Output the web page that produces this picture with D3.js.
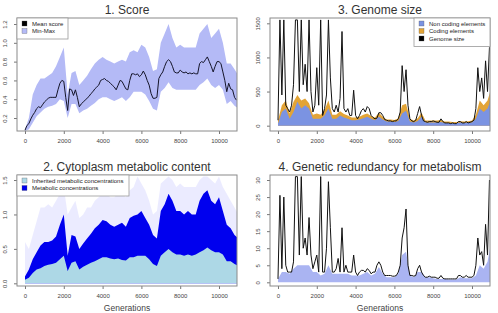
<!DOCTYPE html>
<html>
<head>
<meta charset="utf-8">
<script src="https://cdn.jsdelivr.net/npm/d3@7"></script>
<style>
body { margin: 0; background: #fff; }
svg { display: block; font-family: "Liberation Sans", Arial, Helvetica, sans-serif; }
</style>
</head>
<body>
<div id="chart"></div>
<script>
// generations (x) for the 100-step and 200-step series
const gens100 = d3.range(0, 11000, 100);
const gens200 = d3.range(0, 11001, 200);
const xTicks = [0, 2000, 4000, 6000, 8000, 10000];

// 1. Score
const meanScore = [0.07,0.12,0.14,0.19,0.23,0.26,0.30,0.32,0.31,0.34,
  0.37,0.39,0.41,0.42,0.42,0.42,0.42,0.50,0.57,0.60,
  0.59,0.42,0.28,0.51,0.50,0.44,0.50,0.42,0.32,0.35,
  0.37,0.39,0.41,0.43,0.46,0.48,0.51,0.53,0.55,0.60,
  0.61,0.62,0.60,0.59,0.57,0.55,0.53,0.50,0.55,0.60,
  0.59,0.55,0.51,0.50,0.60,0.67,0.67,0.66,0.67,0.64,
  0.66,0.70,0.66,0.60,0.55,0.46,0.41,0.41,0.42,0.62,
  0.66,0.69,0.75,0.80,0.82,0.80,0.75,0.69,0.68,0.68,
  0.71,0.69,0.68,0.69,0.67,0.68,0.67,0.68,0.67,0.67,
  0.78,0.80,0.79,0.82,0.85,0.80,0.75,0.69,0.75,0.80,
  0.80,0.78,0.69,0.60,0.48,0.57,0.51,0.50,0.42,0.39];
const maxScore = [0.08,0.2,0.45,0.55,0.62,0.62,0.65,0.68,0.75,0.85,
  0.95,0.45,0.68,0.7,0.55,0.6,0.65,0.72,0.78,0.82,
  0.85,0.82,0.8,0.78,0.8,0.82,0.8,0.9,0.92,0.9,
  0.98,0.95,0.85,0.7,0.72,1.0,1.1,1.2,1.05,0.95,
  0.98,0.95,0.95,0.95,0.95,1.1,1.15,1.2,1.05,1.1,
  1.15,1.0,0.78,0.78,0.72,0.65];
const minScore = [0.06,0.08,0.15,0.22,0.26,0.3,0.32,0.33,0.35,0.4,
  0.38,0.2,0.35,0.35,0.25,0.28,0.3,0.33,0.36,0.4,
  0.42,0.42,0.4,0.38,0.4,0.42,0.38,0.42,0.48,0.48,
  0.48,0.45,0.38,0.3,0.28,0.48,0.52,0.58,0.52,0.5,
  0.5,0.5,0.5,0.5,0.5,0.55,0.58,0.62,0.55,0.52,
  0.55,0.5,0.35,0.38,0.33,0.3];

// 2. Cytoplasm metabolic content
const inherited = [0.05,0.08,0.15,0.2,0.22,0.25,0.27,0.28,0.3,0.35,
  0.4,0.18,0.3,0.32,0.2,0.24,0.27,0.3,0.32,0.35,
  0.38,0.38,0.36,0.35,0.36,0.34,0.33,0.38,0.38,0.4,
  0.4,0.4,0.35,0.28,0.25,0.4,0.45,0.5,0.45,0.42,
  0.42,0.4,0.42,0.4,0.42,0.45,0.48,0.52,0.48,0.45,
  0.45,0.42,0.32,0.32,0.28,0.25];
const metabolic = [0.1,0.2,0.35,0.45,0.55,0.6,0.6,0.62,0.68,0.85,
  1.0,0.4,0.7,0.68,0.5,0.58,0.65,0.72,0.8,0.85,
  0.92,0.9,0.85,0.82,0.85,0.88,0.82,0.95,0.98,1.0,
  1.05,0.95,0.85,0.7,0.65,1.05,1.15,1.3,1.2,1.05,
  1.05,1.0,1.05,1.0,1.0,1.2,1.3,1.35,1.2,1.15,
  1.25,1.05,0.85,0.8,0.7,0.65];
const metabolicMax = [0.6,0.5,0.7,0.9,1.1,1.1,1.15,1.1,1.2,1.3,
  1.4,1.0,1.1,1.2,0.95,1.0,1.1,1.1,1.2,1.25,
  1.3,1.3,1.25,1.25,1.3,1.3,1.25,1.35,1.4,1.55,
  1.45,1.35,1.2,1.0,1.05,1.45,1.5,1.55,1.5,1.4,
  1.45,1.4,1.4,1.4,1.4,1.5,1.55,1.55,1.5,1.45,
  1.55,1.4,1.3,1.2,1.1,1.0];

// 3. Genome size
const genomeSize = [80,1550,450,1550,300,250,200,300,600,1550,
  1550,500,1550,600,900,500,1550,500,200,300,
  850,300,1550,150,250,450,1550,700,250,200,
  300,200,400,1380,250,200,250,150,150,520,
  150,100,150,220,250,200,280,250,150,120,
  100,110,190,190,150,90,80,70,70,60,
  70,70,100,200,880,500,820,300,100,70,
  60,80,180,280,150,70,60,50,60,60,
  70,60,50,50,100,60,40,40,40,30,
  40,30,30,60,60,40,40,60,40,50,
  60,80,250,850,500,700,400,950,500,1150];
const nonCoding = [30,200,250,100,200,350,250,300,250,100,
  100,100,150,250,100,100,150,120,100,80,
  80,90,110,130,100,80,130,90,60,60,
  55,70,180,220,60,45,70,130,45,45,
  45,45,55,40,40,35,35,45,40,45,
  45,100,250,200,250,400];
const coding = [50,100,120,80,150,100,120,100,80,60,
  80,60,80,120,60,60,60,50,50,40,
  40,40,50,50,40,40,60,40,30,30,
  30,40,120,100,40,30,40,60,30,30,
  30,30,30,20,20,20,20,20,20,20,
  30,60,120,100,120,150];

// 4. Genetic redundancy for metabolism
const redundancy = [1,25.5,4,25,5,3,3,3,6,31,
  31,8,31,10,13,8,19,8,4,6,
  8,3,31,3,3,10,29.5,16,3,3,
  4,7,3,16,3,5,3,3,3,8,
  3,2,3,3.5,3.5,3,4,3.5,2.5,3,
  3,5,6,5,3,2,2,2,2,1.8,
  1.8,2,3,5,13,16,21.5,5,2,2,
  1.8,2,4,5,3,2,1.5,1.5,1.8,1.5,
  1.5,1.5,1.2,1.2,2,1.2,1,1,1,1,
  1,1,1,2,2,1.5,1.5,2,1.5,1.5,
  1.5,2,5,13,8,9,5,17,8,30];
const redundancyLow = [1,3,3,2.5,4,5,5,5,5,3,
  3,2,2.5,5,2.5,2.5,2.5,2.5,2.5,2,
  2,2,2.5,3,2,2.5,4.5,2.5,1.5,1.5,
  1.5,2.5,8,9,2,1.5,3,3,1.5,1.5,
  1.2,1,1,1,0.8,0.8,0.8,1.5,1.2,1.2,
  1.2,2,5,4,6,12];

const W = 498, H = 313;
const svg = d3.select("#chart").append("svg")
    .attr("width", W)
    .attr("height", H);

let clipId = 0;

function panel(box, yDomain, yTicks, yFormat, title, xlabel) {
    const x = d3.scaleLinear().domain([-412, 10928]).range([box.left, box.right]);
    const y = d3.scaleLinear().domain(yDomain).range([box.bottom, box.top]);
    const g = svg.append("g");
    const id = "clip" + (clipId++);

    g.append("clipPath").attr("id", id).append("rect")
        .attr("x", box.left).attr("y", box.top)
        .attr("width", box.right - box.left).attr("height", box.bottom - box.top);

    const plot = g.append("g").attr("clip-path", `url(#${id})`);

    const xAxis = g.append("g")
        .attr("transform", `translate(0, ${box.bottom})`)
        .call(d3.axisBottom(x).tickValues(xTicks).tickSize(3).tickPadding(5).tickFormat(d3.format("d")));
    const yAxis = g.append("g")
        .attr("transform", `translate(${box.left}, 0)`)
        .call(d3.axisLeft(y).tickValues(yTicks).tickSize(3).tickFormat(yFormat));

    [xAxis, yAxis].forEach(a => {
        a.select(".domain").remove();
        a.selectAll("line").attr("stroke", "#777");
        a.selectAll("text").attr("fill", "#444").style("font-size", "6px");
    });
    yAxis.selectAll("text")
        .attr("x", null).attr("dy", null)
        .attr("text-anchor", "middle")
        .attr("transform", "translate(-10, 0) rotate(-90)");

    g.append("rect")
        .attr("x", box.left).attr("y", box.top)
        .attr("width", box.right - box.left).attr("height", box.bottom - box.top)
        .attr("fill", "none").attr("stroke", "#8a8a8a").attr("stroke-width", 1);

    g.append("text")
        .attr("x", (box.left + box.right) / 2).attr("y", box.top - 4)
        .attr("text-anchor", "middle")
        .attr("fill", "#333")
        .style("font-size", "12px")
        .text(title);

    if (xlabel) {
        g.append("text")
            .attr("x", (box.left + box.right) / 2).attr("y", box.bottom + 25)
            .attr("text-anchor", "middle")
            .attr("fill", "#444")
            .style("font-size", "8.5px")
            .text(xlabel);
    }
    return { x, y, plot, g };
}

function legend(g, left, top, w, items) {
    const rowH = 7.5;
    const lg = g.append("g");
    lg.append("rect")
        .attr("x", left).attr("y", top)
        .attr("width", w).attr("height", items.length * rowH + 6)
        .attr("fill", "#fff").attr("stroke", "#999").attr("stroke-width", 0.8);
    items.forEach((it, i) => {
        const cy = top + 5.5 + i * rowH;
        lg.append("rect")
            .attr("x", left + 5).attr("y", cy - 2.5)
            .attr("width", 5).attr("height", 5)
            .attr("fill", it.color).attr("stroke", "#555").attr("stroke-width", 0.3);
        lg.append("text")
            .attr("x", left + 15).attr("y", cy + 2)
            .attr("fill", "#222")
            .style("font-size", "6px")
            .text(it.label);
    });
}

const fmt1 = d3.format(".1f");

// ---- 1. Score
const p1 = panel({ left: 17, right: 237, top: 18, bottom: 131 }, [0.062, 1.264],
    [0.2, 0.4, 0.6, 0.8, 1.0, 1.2], fmt1, "1. Score");
p1.plot.append("path")
    .datum(gens200)
    .attr("fill", "#b4baf6")
    .attr("d", d3.area().x(d => p1.x(d)).y0((d, i) => p1.y(minScore[i])).y1((d, i) => p1.y(maxScore[i])));
p1.plot.append("path")
    .datum(gens100)
    .attr("fill", "none").attr("stroke", "#15152a").attr("stroke-width", 1)
    .attr("d", d3.line().x(d => p1.x(d)).y((d, i) => p1.y(meanScore[i])));
legend(p1.g, 17, 18, 51, [
    { label: "Mean score", color: "#000" },
    { label: "Min-Max", color: "#b4baf6" }
]);

// ---- 2. Cytoplasm metabolic content
const p2 = panel({ left: 17, right: 237, top: 175, bottom: 286 }, [-0.039, 1.573],
    [0.0, 0.5, 1.0, 1.5], fmt1, "2. Cytoplasm metabolic content", "Generations");
p2.plot.append("path")
    .datum(gens200)
    .attr("fill", "#0000ff").attr("fill-opacity", 0.08)
    .attr("d", d3.area().x(d => p2.x(d)).y0(p2.y(0)).y1((d, i) => p2.y(metabolicMax[i])));
p2.plot.append("path")
    .datum(gens200)
    .attr("fill", "#0000ee")
    .attr("d", d3.area().x(d => p2.x(d)).y0(p2.y(0)).y1((d, i) => p2.y(metabolic[i])));
p2.plot.append("path")
    .datum(gens200)
    .attr("fill", "#add8e6")
    .attr("d", d3.area().x(d => p2.x(d)).y0(p2.y(0)).y1((d, i) => p2.y(inherited[i])));
legend(p2.g, 17, 175, 112, [
    { label: "Inherited metabolic concentrations", color: "#add8e6" },
    { label: "Metabolic concentrations", color: "#0000ee" }
]);

// ---- 3. Genome size
const p3 = panel({ left: 270, right: 490, top: 18, bottom: 131 }, [-78, 1578],
    [0, 500, 1000, 1500], d3.format("d"), "3. Genome size");
p3.plot.append("path")
    .datum(gens200)
    .attr("fill", "#e3a436")
    .attr("d", d3.area().x(d => p3.x(d)).y0(p3.y(0)).y1((d, i) => p3.y(nonCoding[i] + coding[i])));
p3.plot.append("path")
    .datum(gens200)
    .attr("fill", "#7b93e2")
    .attr("d", d3.area().x(d => p3.x(d)).y0(p3.y(0)).y1((d, i) => p3.y(nonCoding[i])));
p3.plot.append("path")
    .datum(gens100)
    .attr("fill", "none").attr("stroke", "#111").attr("stroke-width", 1)
    .attr("d", d3.line().x(d => p3.x(d)).y((d, i) => p3.y(genomeSize[i])));
legend(p3.g, 414, 18, 76, [
    { label: "Non coding elements", color: "#7b93e2" },
    { label: "Coding elements", color: "#e3a436" },
    { label: "Genome size", color: "#000" }
]);

// ---- 4. Genetic redundancy for metabolism
const p4 = panel({ left: 270, right: 490, top: 175, bottom: 286 }, [-1.08, 31.47],
    [0, 5, 10, 15, 20, 25, 30], d3.format("d"), "4. Genetic redundancy for metabolism", "Generations");
p4.plot.append("path")
    .datum(gens200)
    .attr("fill", "#aab4f2")
    .attr("d", d3.area().x(d => p4.x(d)).y0(p4.y(0)).y1((d, i) => p4.y(redundancyLow[i])));
p4.plot.append("path")
    .datum(gens100)
    .attr("fill", "none").attr("stroke", "#111").attr("stroke-width", 1)
    .attr("d", d3.line().x(d => p4.x(d)).y((d, i) => p4.y(redundancy[i])));
</script>
</body>
</html>
